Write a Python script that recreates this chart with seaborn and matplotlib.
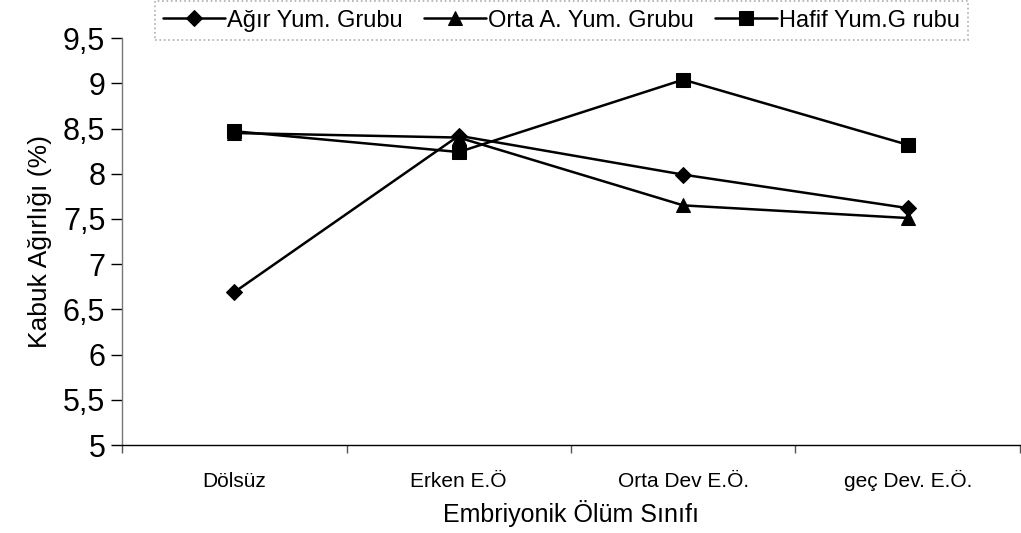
import pandas as pd
import seaborn as sns
import matplotlib.pyplot as plt
from matplotlib.ticker import FixedLocator

# categories and series values
siniflar = ['Dölsüz', 'Erken E.Ö', 'Orta Dev E.Ö.', 'geç Dev. E.Ö.']
agir = [6.69, 8.42, 7.99, 7.62]
orta = [8.45, 8.40, 7.65, 7.51]
hafif = [8.47, 8.24, 9.04, 8.32]
gruplar = ['Ağır Yum. Grubu', 'Orta A. Yum. Grubu', 'Hafif Yum.G rubu']
y_ticks = [5, 5.5, 6, 6.5, 7, 7.5, 8, 8.5, 9, 9.5]
y_labels = ['5', '5,5', '6', '6,5', '7', '7,5', '8', '8,5', '9', '9,5']

rows = []
for g, vals in zip(gruplar, [agir, orta, hafif]):
  for s, v in zip(siniflar, vals):
    rows.append({'sinif': s, 'deger': v, 'grup': g})
df = pd.DataFrame(rows)

sns.set_style('white')
plt.rcParams['font.family'] = ['Liberation Sans', 'DejaVu Sans']
plt.rcParams['text.color'] = 'black'
plt.rcParams['axes.labelcolor'] = 'black'
plt.rcParams['xtick.color'] = 'black'
plt.rcParams['ytick.color'] = 'black'

fig = plt.figure(figsize=(10.21, 5.33), dpi=100)
ax = fig.add_axes([0.1195, 0.165, 0.8795, 0.7636])

sns.lineplot(data=df, x='sinif', y='deger', style='grup', style_order=gruplar,
             markers={gruplar[0]: 'D', gruplar[1]: '^', gruplar[2]: 's'},
             dashes=False, color='black', linewidth=1.8, markersize=10,
             markeredgecolor='black', ax=ax)
for ln, ms in zip(ax.lines, [8, 10, 10]):
  ln.set_markersize(ms)

ax.set_xlim(-0.5, 3.5)
ax.set_ylim(5, 9.5)
ax.set_yticks(y_ticks)
ax.set_yticklabels(y_labels, fontsize=22)
ax.set_xticks(range(len(siniflar)))
ax.set_xticklabels(siniflar, fontsize=15, va='baseline')
ax.tick_params(axis='x', which='major', length=0, pad=30)
ax.xaxis.set_minor_locator(FixedLocator([-0.5, 0.5, 1.5, 2.5, 3.5]))
ax.tick_params(axis='x', which='minor', bottom=True, length=6, width=1, color='#555555', direction='out')
ax.tick_params(axis='y', left=True, length=8, width=1, direction='out', pad=4)

for side in ['top', 'right']:
  ax.spines[side].set_visible(False)
ax.spines['left'].set_color('#777777')
ax.spines['bottom'].set_color('black')
ax.spines['left'].set_linewidth(1)
ax.spines['bottom'].set_linewidth(1)

ax.set_xlabel('Embriyonik Ölüm Sınıfı', fontsize=18, labelpad=7)
ax.set_ylabel('Kabuk Ağırlığı (%)', fontsize=19, labelpad=8)

handles, labels = ax.get_legend_handles_labels()
for h, ms in zip(handles, [8, 10, 10]):
  h.set_markersize(ms)
leg = fig.legend(handles, labels, loc='lower left', ncol=3, mode='expand',
                 bbox_to_anchor=(155/1021, 1-40/533, 813/1021, 38/533),
                 prop={'size': 17}, frameon=True, fancybox=False,
                 handlelength=2.6, handletextpad=0.1, borderaxespad=0, borderpad=0.35)
leg.get_frame().set_edgecolor('#999999')
leg.get_frame().set_linestyle(':')
leg.get_frame().set_linewidth(1.2)
if ax.get_legend():
  ax.get_legend().remove()

plt.savefig('out.png', dpi=100)
